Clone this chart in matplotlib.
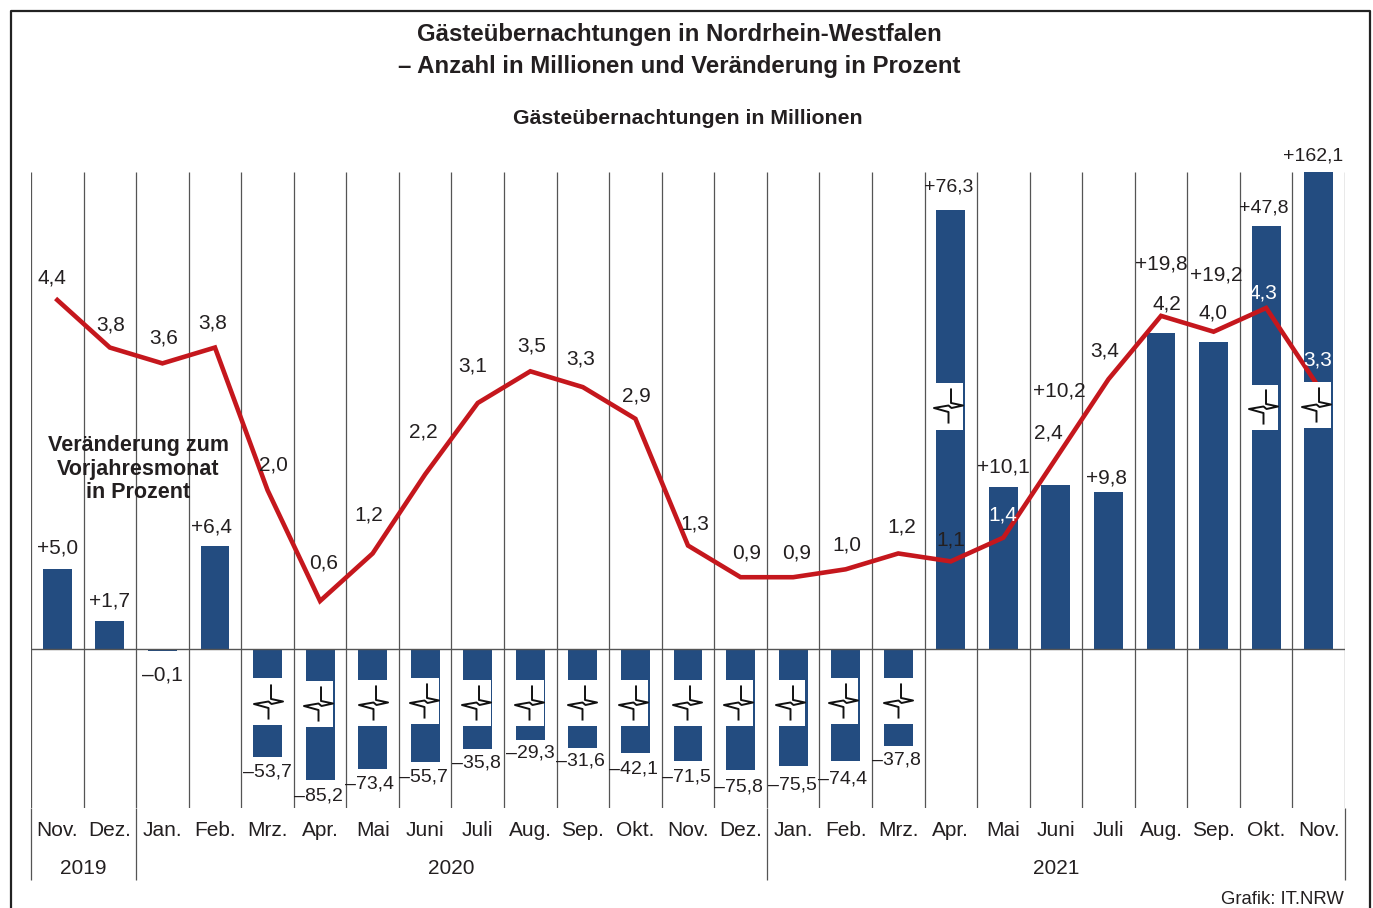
import numpy as np
import matplotlib
matplotlib.use("Agg")
import matplotlib.pyplot as plt
from matplotlib.lines import Line2D
from matplotlib.patches import Rectangle
from matplotlib.path import Path

plt.rcParams['font.family'] = ['Liberation Sans', 'DejaVu Sans']

W, H = 1373, 908
TXT = '#231f20'
BLUE = '#234c80'
RED = '#c5171d'
GRID = '#555555'

months = ['Nov.', 'Dez.', 'Jan.', 'Feb.', 'Mrz.', 'Apr.', 'Mai', 'Juni', 'Juli', 'Aug.', 'Sep.', 'Okt.', 'Nov.',
          'Dez.', 'Jan.', 'Feb.', 'Mrz.', 'Apr.', 'Mai', 'Juni', 'Juli', 'Aug.', 'Sep.', 'Okt.', 'Nov.']
years = ['2019', '2020', '2021']
year_centre = [0.5, 7.5, 19.0]
year_sep = [-0.5, 1.5, 13.5, 24.5]

# overnight stays in millions
mio = [4.4, 3.8, 3.6, 3.8, 2.0, 0.6, 1.2, 2.2, 3.1, 3.5, 3.3, 2.9, 1.3,
       0.9, 0.9, 1.0, 1.2, 1.1, 1.4, 2.4, 3.4, 4.2, 4.0, 4.3, 3.3]

# change to previous year in percent
pct = [5.0, 1.7, -0.1, 6.4, -53.7, -85.2, -73.4, -55.7, -35.8, -29.3, -31.6, -42.1, -71.5,
       -75.8, -75.5, -74.4, -37.8, 76.3, 10.1, 10.2, 9.8, 19.8, 19.2, 47.8, 162.1]

# bar ends as drawn on the broken axis
pct_drawn = [5.0, 1.7, -0.15, 6.4, -6.8, -8.2, -7.55, -7.1, -6.25, -5.7, -6.2, -6.5, -7.0,
             -7.6, -7.35, -7.0, -6.1, 27.4, 10.1, 10.2, 9.8, 19.75, 19.15, 26.4, 30.0]

# bars with an axis break: index, patch top/bottom in image px, x shift in px
brk_idx = [4, 5, 6, 7, 8, 9, 10, 11, 12, 13, 14, 15, 16, 17, 23, 24]
brk_top = [678, 681, 680, 678, 680, 680, 680, 680, 680, 680, 680, 678, 678, 383, 385, 382]
brk_bot = [725, 727, 726, 724, 726, 726, 726, 726, 726, 726, 726, 724, 724, 430, 430, 428]
brk_dx = [0, -2, 0, -1, -2, -1, -1, -2, -1, -3, -3, -3, 0, -3, -3, -3]

# label offsets in px (x, y up)
mio_off = [(-5, 22), (1, 23), (1, 25), (-2, 25), (6, 25), (4, 38), (-4, 38), (-2, 42), (-5, 37), (1, 25), (-2, 28),
           (1, 23), (7, 22), (6, 24), (4, 24), (1, 24), (4, 26), (0, 21), (-1, 23), (-8, 25), (-4, 28), (6, 12),
           (-1, 19), (-3, 15), (-1, 27)]
pct_off = [(0, 20), (0, 20), (0, -24), (-3, 19), (0, -15), (-2, -16), (-3, -15), (-2, -15), (-1, -15), (0, -13),
           (-2, -13), (-2, -16), (-2, -16), (-2, -17), (-1, -19), (-3, -18), (-2, -14), (-2, 23), (0, 20), (3, 94),
           (-2, 14), (0, 68), (3, 67), (-2, 18), (-6, 16)]
white_mio = [18, 23, 24]
# these labels are squeezed in the original
narrow_pct = [4, 5, 6, 7, 8, 9, 10, 11, 12, 13, 14, 15, 16, 17, 23, 24]

ZERO = 648.5
PCT_PX = 16.0
MIO_PX = 79.2


def py(px):
    # image y pixel to value on the percent axis
    return (ZERO - px) / PCT_PX


x = np.arange(len(months))

fig = plt.figure(figsize=(W / 100, H / 100), dpi=100)
ax = fig.add_axes([31 / W, (H - 808) / H, 1314 / W, 636 / H])
ax.set_xlim(-0.5, 24.5)
ax.set_ylim(py(808), py(172))
ax.axis('off')

ax2 = ax.twinx()
ax2.set_ylim(py(808) * PCT_PX / MIO_PX, py(172) * PCT_PX / MIO_PX)
ax2.axis('off')

# grid
seps = np.arange(-0.5, 25)
ax.vlines(seps, py(808), py(172), color=GRID, lw=0.9, zorder=1)
ax.vlines(year_sep, py(880), py(808), color=GRID, lw=0.9, zorder=1, clip_on=False)
ax.axhline(0, color=GRID, lw=1.0, zorder=3)

ax.bar(x, pct_drawn, width=0.55, color=BLUE, zorder=2)

ax2.plot(x, mio, color=RED, lw=3.3, zorder=3, solid_joinstyle='miter')

# axis break patches and symbols
sym = Path([(2.5, 18), (2.5, 3.5), (14.5, 1), (3, -1.5), (0, 1), (-14.5, -1.5), (0, -5.5), (0, -17)])
for i, t, b, dx in zip(brk_idx, brk_top, brk_bot, brk_dx):
    xc = i + dx / 52.56
    ax2.add_patch(Rectangle((xc - 0.285, py(b)), 0.57, py(t) - py(b), facecolor='white', edgecolor='none',
                            transform=ax.transData, zorder=4))
    ax2.plot([xc], [py((t + b) / 2)], marker=sym, ms=26, mfc='none', mec='#111111', mew=1.4, ls='none',
             transform=ax.transData, zorder=5, clip_on=False)

# value labels
for i in x:
    c = 'white' if i in white_mio else TXT
    ax2.annotate(f'{mio[i]:.1f}'.replace('.', ','), (i, mio[i]), xytext=mio_off[i], textcoords='offset pixels',
                 ha='center', va='center', fontsize=15, color=c, zorder=6, annotation_clip=False)
    s = f'{abs(pct[i]):.1f}'.replace('.', ',')
    s = ('+' if pct[i] > 0 else '\u2013') + s
    ax2.annotate(s, (i, min(pct_drawn[i], py(172))), xycoords=ax.transData, xytext=pct_off[i],
                 textcoords='offset pixels', ha='center', va='center', fontsize=14 if i in narrow_pct else 15,
                 color=TXT, zorder=6, annotation_clip=False)

# months and years
for i, m in zip(x, months):
    ax2.text(i, py(831), m, transform=ax.transData, ha='center', va='center', fontsize=15, color=TXT, clip_on=False)
for c, y in zip(year_centre, years):
    ax2.text(c, py(868), y, transform=ax.transData, ha='center', va='center', fontsize=15, color=TXT, clip_on=False)


def ftext(px, pyy, s, **kw):
    fig.text(px / W, 1 - pyy / H, s, color=TXT, va='center', **kw)


ftext(679, 35, 'Gästeübernachtungen in Nordrhein-Westfalen', ha='center', fontsize=17.25, fontweight='bold')
ftext(679, 67, '\u2013 Anzahl in Millionen und Veränderung in Prozent', ha='center', fontsize=17.25, fontweight='bold')
ftext(688, 118, 'Gästeübernachtungen in Millionen', ha='center', fontsize=15.3, fontweight='bold')
ftext(138, 446, 'Veränderung zum', ha='center', fontsize=15.5, fontweight='bold')
ftext(138, 470, 'Vorjahresmonat', ha='center', fontsize=15.5, fontweight='bold')
ftext(138, 493, 'in Prozent', ha='center', fontsize=15.5, fontweight='bold')
ftext(1344, 899, 'Grafik: IT.NRW', ha='right', fontsize=13.3)

# outer frame, open at the bottom
fig.add_artist(Line2D(np.array([11, 11, 1370, 1370]) / W, 1 - np.array([908, 11, 11, 908]) / H,
                      color='#222222', lw=1.6, transform=fig.transFigure))

fig.savefig('out.png', dpi=100)
